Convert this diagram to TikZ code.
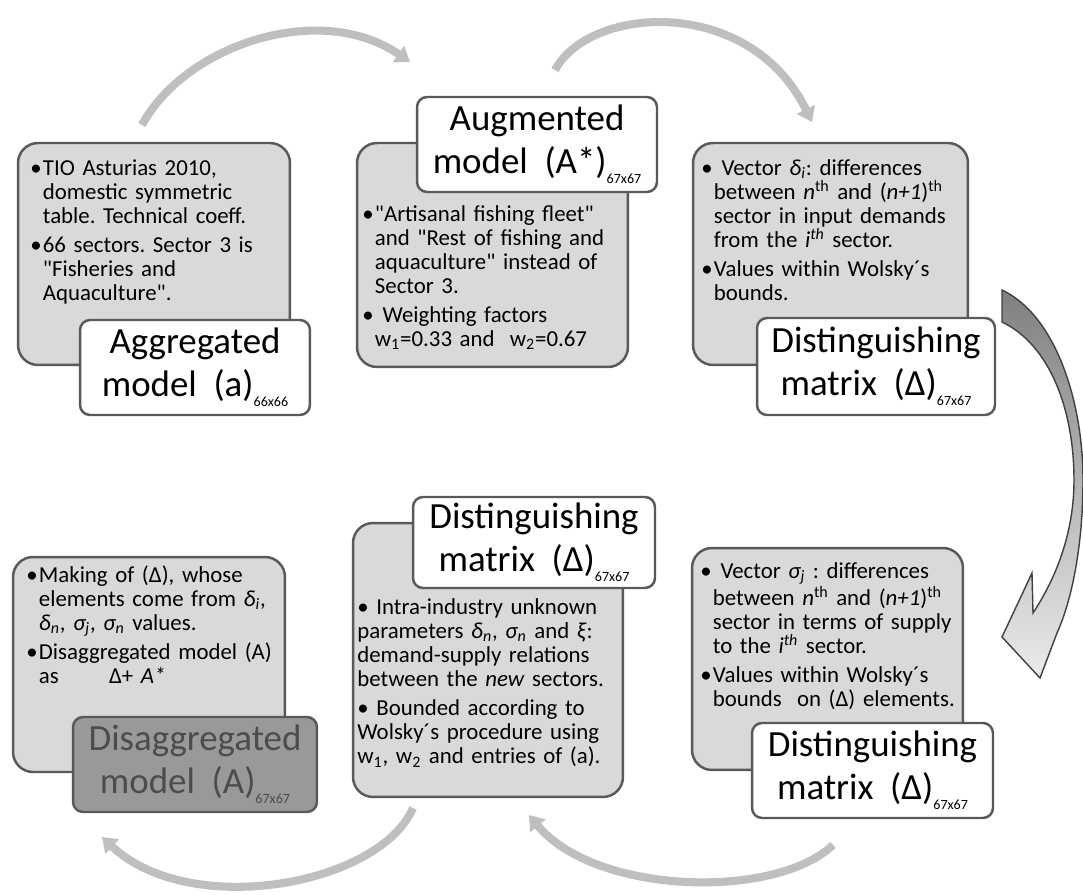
\documentclass[tikz,border=0pt]{standalone}
\usepackage{fontspec}
\setmainfont{Carlito}
\usetikzlibrary{arrows.meta, positioning}
\newcommand{\bul}{\makebox[0.55em][l]{\textbullet}}
\newcommand{\hg}{\hspace*{0.55em}}
\newcommand{\qt}{\textquotedbl}
\newcommand{\dimsub}[1]{\raisebox{-0.6ex}{\fontsize{8}{8}\selectfont #1}}

\begin{document}
\frenchspacing
\begin{tikzpicture}[x=0.02cm, y=-0.02cm,
	panel/.style={draw=black!65, line width=1.4pt, fill=black!15, rounded corners=0.4cm},
	title/.style={draw=black!65, line width=1.4pt, fill=white, rounded corners=0.2cm, align=center, inner sep=2pt, font=\fontsize{21}{24}\selectfont},
	body/.style={anchor=north west, inner sep=0pt, text width=5.3cm, align=left, font=\fontsize{13}{13.7}\selectfont},
	loop/.style={draw=black!25, line width=4.6pt, -{Triangle[width=11pt, length=8pt]}},
	bigarrow/.style={draw=black!75, line width=0.8pt, top color=black!50, bottom color=black!8}]
	\useasboundingbox (0,0) rectangle (1083,895);

	\node[panel, minimum width=5.44cm, minimum height=4.44cm] (g1) at (154,254) {};
	\node[body] (b1) at (30,159) {\bul TIO Asturias 2010,\newline\hg domestic symmetric\newline\hg table. Technical coeff.\par\vspace{3pt}
		\bul 66 sectors. Sector 3 is\newline\hg \qt Fisheries and\newline\hg Aquaculture\qt.};
	\node[title, minimum width=4.6cm, minimum height=1.9cm] (t1) at (195,367.5) {Aggregated\\model\ \ (a)\dimsub{66x66}};

	\node[panel, minimum width=5.42cm, minimum height=4.48cm] (g2) at (492.5,255) {};
	\node[body] (b2) at (362,205) {\bul\qt Artisanal fishing fleet\qt\newline\hg and \qt Rest of fishing and\newline\hg aquaculture\qt\ instead of\newline\hg Sector 3.\par\vspace{3pt}
		\bul\ Weighting factors\newline\hg w\textsubscript{1}=0.33 and\ \ w\textsubscript{2}=0.67};
	\node[title, minimum width=4.8cm, minimum height=1.9cm] (t2) at (537,144.5) {Augmented\\model\ \ (A*)\dimsub{67x67}};

	\node[panel, minimum width=5.5cm, minimum height=4.44cm] (g3) at (830.5,254) {};
	\node[body] (b3) at (701,159) {\bul\ Vector \textit{δ\textsubscript{i}}: differences\newline\hg between \textit{n}\textsuperscript{th} and (\textit{n+1})\textsuperscript{th}\newline\hg sector in input demands\newline\hg from the \textit{i}\textsuperscript{\textit{th}} sector.\par\vspace{3pt}
		\bul Values within Wolsky´s\newline\hg bounds.};
	\node[title, minimum width=4.76cm, minimum height=1.94cm] (t3) at (876,366.5) {Distinguishing\\matrix\ \ (Δ)\dimsub{67x67}};

	\node[panel, minimum width=5.44cm, minimum height=4.3cm] (g4) at (149,664.5) {};
	\node[body] (b4) at (26,565) {\bul Making of (Δ), whose\newline\hg elements come from \textit{δ\textsubscript{i}},\newline\hg \textit{δ\textsubscript{n}}, \textit{σ\textsubscript{j}}, \textit{σ\textsubscript{n}} values.\par\vspace{3pt}
		\bul Disaggregated model (A)\newline\hg as\hspace{2.2em}Δ+ \textit{A*}};
	\node[title, fill=black!40, text=black!70, minimum width=4.88cm, minimum height=1.9cm] (t4) at (195,764.5) {Disaggregated\\model\ \ (A)\dimsub{67x67}};

	\node[panel, minimum width=5.4cm, minimum height=5.48cm] (g5) at (488,660) {};
	\node[body] (b5) at (357,598) {\textbullet\ Intra-industry unknown\newline parameters \textit{δ\textsubscript{n}}, \textit{σ\textsubscript{n}} and \textit{ξ}:\newline demand-supply relations\newline between the \textit{new} sectors.\par\vspace{3pt}
		\textbullet\ Bounded according to\newline Wolsky´s procedure using\newline w\textsubscript{1}, w\textsubscript{2} and entries of (a).};
	\node[title, minimum width=4.84cm, minimum height=1.82cm] (t5) at (534,542.5) {Distinguishing\\matrix\ \ (Δ)\dimsub{67x67}};

	\node[panel, minimum width=5.42cm, minimum height=4.44cm] (g6) at (827.5,659) {};
	\node[body] (b6) at (700,562) {\bul\ Vector \textit{σ\textsubscript{j}} : differences\newline\hg between \textit{n}\textsuperscript{th} and (\textit{n+1})\textsuperscript{th}\newline\hg sector in terms of supply\newline\hg to the \textit{i}\textsuperscript{\textit{th}} sector.\par\vspace{3pt}
		\bul Values within Wolsky´s\newline\hg bounds\ \ on (Δ) elements.};
	\node[title, minimum width=4.82cm, minimum height=1.9cm] (t6) at (872.5,770.5) {Distinguishing\\matrix\ \ (Δ)\dimsub{67x67}};

	\coordinate (a1s) at (142,125);
	\coordinate (a1e) at (410,62);
	\coordinate (a2s) at (555,70);
	\coordinate (a2e) at (812,122);
	\coordinate (a3s) at (413,808);
	\coordinate (a3e) at (102,837);
	\coordinate (a4s) at (833,845);
	\coordinate (a4e) at (529,815);
	\draw[loop] (a1s) .. controls (185,45) and (320,0) .. (a1e);
	\draw[loop] (a2s) .. controls (590,5) and (750,-5) .. (a2e);
	\draw[loop] (a3s) .. controls (380,885) and (190,920) .. (a3e);
	\draw[loop] (a4s) .. controls (775,900) and (595,895) .. (a4e);

	\draw[bigarrow] (1002,290) .. controls (1055,315) and (1083,400) .. (1083,480)
		.. controls (1083,545) and (1072,600) .. (1057,633)
		-- (1040,678) -- (1002,637) -- (1032,573) -- (1033,613)
		.. controls (1058,575) and (1074,530) .. (1074,480)
		.. controls (1074,410) and (1050,345) .. (1002,322) -- cycle;
\end{tikzpicture}
\end{document}
